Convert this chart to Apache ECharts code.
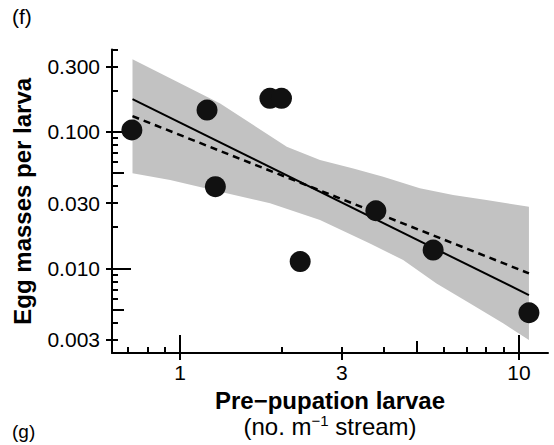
<!DOCTYPE html>
<html><head><meta charset="utf-8">
<script src="https://cdn.jsdelivr.net/npm/echarts@6/dist/echarts.min.js"></script>
<style>html,body{margin:0;padding:0;background:#fff}#c{width:554px;height:445px}</style>
</head><body><div id="c"></div>
<script>
// ---- data ----
const larvae    = [0.72, 1.20, 1.27, 1.84, 1.99, 2.26, 3.78, 5.58, 10.70];
const eggMasses = [0.103, 0.144, 0.0396, 0.1756, 0.1756, 0.0112, 0.0264, 0.0136, 0.00473];

const fitX      = [0.723, 10.70];
const fitSolid  = [0.1735, 0.00637];
const fitDashed = [0.130, 0.00919];

const bandUpperX = [0.723, 0.934, 1.312, 1.644, 2.063, 2.586, 3.243, 3.973, 5.097, 6.39, 8.015, 10.70];
const bandUpperY = [0.339, 0.246, 0.161, 0.112, 0.0777, 0.0621, 0.0539, 0.0469, 0.0386, 0.0344, 0.0316, 0.0282];
const bandLowerX = [0.723, 0.934, 1.312, 1.842, 2.586, 3.631, 4.551, 5.709, 7.155, 8.975, 10.70];
const bandLowerY = [0.0496, 0.0443, 0.0364, 0.0299, 0.0226, 0.0152, 0.0115, 0.00776, 0.00555, 0.00396, 0.00299];

const xLabelValues = [1, 3, 10];
const xLabels      = ['1', '3', '10'];
const xTicksLong   = [1, 10];
const xTicksMid    = [5];
const xTicksShort  = [0.7, 0.8, 0.9, 2, 3, 4, 6, 7, 8, 9];

const yLabelValues = [0.003, 0.01, 0.03, 0.1, 0.3];
const yLabels      = ['0.003', '0.010', '0.030', '0.100', '0.300'];
const yTicksLong   = [0.01, 0.1];
const yTicksMid    = [0.005, 0.05];
const yTicksShort  = [0.003, 0.004, 0.006, 0.007, 0.008, 0.009, 0.02, 0.03, 0.04, 0.06, 0.07, 0.08, 0.09, 0.2, 0.3, 0.4];

const xRange = [0.629, 12.18];
const yRange = [0.0024, 0.4];

// ---- chart ----
const FONT = "'Liberation Sans', Arial, sans-serif";
function pick(values, labels, v) {
  for (let i = 0; i < values.length; i++) if (Math.abs(v - values[i]) / values[i] < 1e-6) return labels[i];
  return '';
}
function makeAxis(dim, range, ticks, len, inside, main) {
  const ax = {
    type: 'log', logBase: 10, min: range[0], max: range[1], gridIndex: 0,
    position: dim === 'x' ? 'bottom' : 'left', offset: 0,
    splitLine: { show: false }, minorTick: { show: false }, minorSplitLine: { show: false },
    axisLine: { show: !!main, onZero: false, lineStyle: { color: '#000', width: 2 } },
    axisTick: { show: true, inside: inside, length: len, customValues: ticks, lineStyle: { color: '#000', width: 2 } },
    axisLabel: { show: false }
  };
  if (main) {
    const vals = dim === 'x' ? xLabelValues : yLabelValues;
    const labs = dim === 'x' ? xLabels : yLabels;
    ax.axisLabel = {
      show: true, customValues: vals, color: '#000', fontFamily: FONT, fontSize: 21,
      margin: dim === 'x' ? 9 : 12,
      formatter: v => pick(vals, labs, v)
    };
  }
  return ax;
}
const xAxes = [
  makeAxis('x', xRange, xLabelValues, 7, false, true),
  makeAxis('x', xRange, xTicksLong, 18, true, false),
  makeAxis('x', xRange, xTicksMid, 12, true, false),
  makeAxis('x', xRange, xTicksShort, 6, true, false)
];
const yAxes = [
  makeAxis('y', yRange, yLabelValues, 6, false, true),
  makeAxis('y', yRange, yTicksLong, 19, true, false),
  makeAxis('y', yRange, yTicksMid, 12, true, false),
  makeAxis('y', yRange, yTicksShort, 6, true, false)
];
xAxes[0].name = '{t|Pre\u2212pupation larvae}\n{s|(no. m}{sup|\u22121}{s| stream)}';
xAxes[0].nameLocation = 'middle';
xAxes[0].nameGap = 34;
xAxes[0].nameTextStyle = {
  color: '#000', fontFamily: FONT, align: 'center',
  rich: {
    t: { fontSize: 24, fontWeight: 'bold', lineHeight: 26, fontFamily: FONT, color: '#000' },
    s: { fontSize: 24, lineHeight: 26, fontFamily: FONT, color: '#000' },
    sup: { fontSize: 15, lineHeight: 26, verticalAlign: 'top', fontFamily: FONT, color: '#000' }
  }
};
yAxes[0].name = 'Egg masses per larva';
yAxes[0].nameLocation = 'middle';
yAxes[0].nameRotate = 90;
yAxes[0].nameGap = 78;
yAxes[0].nameTextStyle = { color: '#000', fontFamily: FONT, fontSize: 24, fontWeight: 'bold' };

const chart = echarts.init(document.getElementById('c'), null, { renderer: 'svg' });
chart.setOption({
  animation: false,
  backgroundColor: '#fff',
  title: [
    { text: '(f)', left: 10, top: 4, padding: 2, textStyle: { fontSize: 21, fontWeight: 'normal', fontFamily: FONT, color: '#000' } },
    { text: '(g)', left: 10, top: 420, padding: 2, textStyle: { fontSize: 19, fontWeight: 'normal', fontFamily: FONT, color: '#000' } }
  ],
  grid: { left: 112, right: 6, top: 49.5, bottom: 92, containLabel: false, outerBoundsMode: 'none' },
  xAxis: xAxes,
  yAxis: yAxes,
  series: [
    {
      type: 'custom', z: 1, silent: true,
      data: bandUpperX.map((x, i) => [x, bandUpperY[i]]),
      encode: { x: 0, y: 1 },
      renderItem: function (params, api) {
        if (params.dataIndex !== 0) return null;
        const pts = [];
        for (let i = 0; i < bandUpperX.length; i++) pts.push(api.coord([bandUpperX[i], bandUpperY[i]]));
        for (let i = bandLowerX.length - 1; i >= 0; i--) pts.push(api.coord([bandLowerX[i], bandLowerY[i]]));
        return { type: 'polygon', shape: { points: pts }, style: { fill: '#c2c2c2' } };
      }
    },
    {
      type: 'line', z: 2, silent: true, showSymbol: false, symbol: 'none',
      data: fitX.map((x, i) => [x, fitSolid[i]]),
      lineStyle: { color: '#000', width: 2 }
    },
    {
      type: 'line', z: 2, silent: true, showSymbol: false, symbol: 'none',
      data: fitX.map((x, i) => [x, fitDashed[i]]),
      lineStyle: { color: '#000', width: 2.5, type: [7, 5] }
    },
    {
      type: 'scatter', z: 3, silent: true, symbol: 'circle', symbolSize: 21,
      data: larvae.map((x, i) => [x, eggMasses[i]]),
      itemStyle: { color: '#111', opacity: 1 }
    }
  ]
});
</script>
</body></html>
